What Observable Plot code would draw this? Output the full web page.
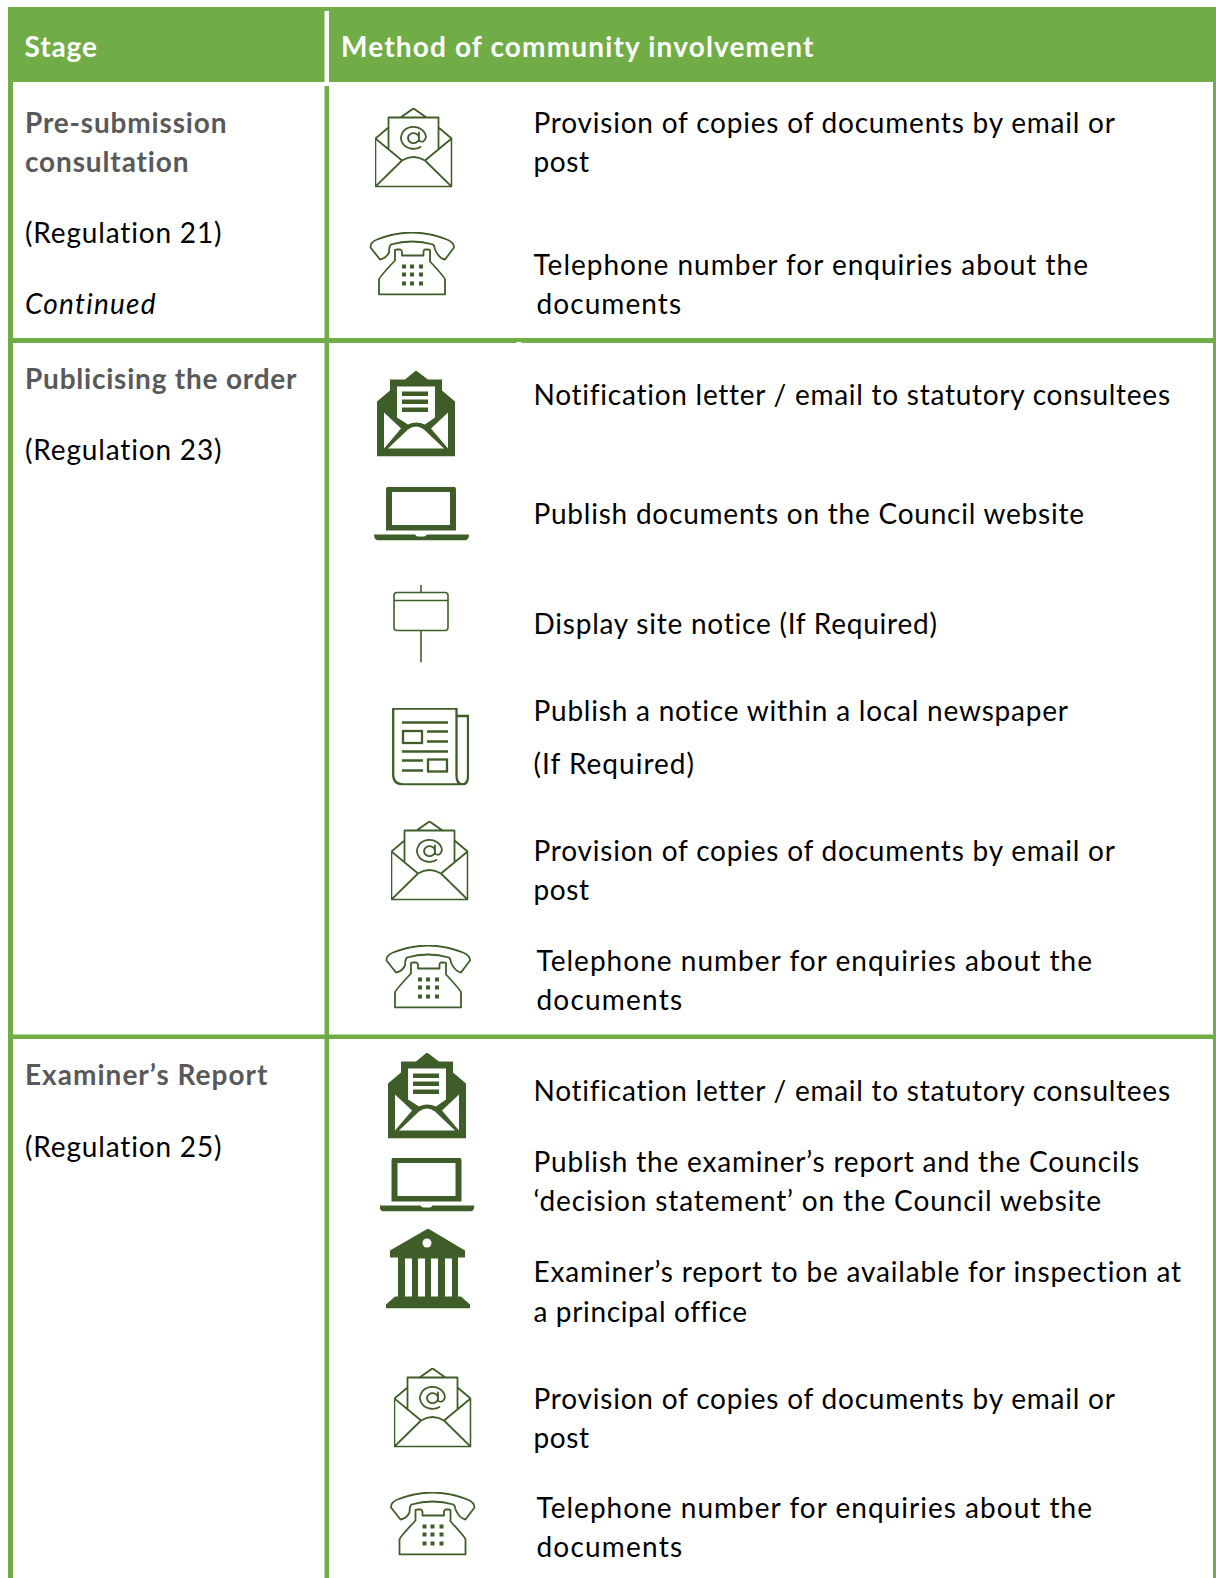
<!DOCTYPE html>
<html><head><meta charset="utf-8">
<style>html,body{margin:0;padding:0;background:#fff}svg{display:block}
svg text{letter-spacing:.5px}</style>
<script src="https://cdn.jsdelivr.net/npm/d3@7"></script>
<script src="https://cdn.jsdelivr.net/npm/@observablehq/plot@0.6"></script>
</head><body><script>
// ---- Content ----
const headerLabels = ["Stage", "Method of community involvement"];
const headerX = [24, 340.5];
const headerLen = [73, 473];

const stageLines = ["Pre-submission","consultation","(Regulation 21)","Continued",
  "Publicising the order","(Regulation 23)","Examiner\u2019s Report","(Regulation 25)"];
const stageKinds = ["title","title","ref","note","title","ref","title","ref"];
const stageY = [123.5,162.5,233.5,304.5,379.5,450.5,1075.5,1147.5];
const stageLen = [202,164,197,131,272,197,243,197];

const methodLines = [
 "Provision of copies of documents by email or","post",
 "Telephone number for enquiries about the","documents",
 "Notification letter / email to statutory consultees",
 "Publish documents on the Council website",
 "Display site notice (If Required)",
 "Publish a notice within a local newspaper","(If Required)",
 "Provision of copies of documents by email or","post",
 "Telephone number for enquiries about the","documents",
 "Notification letter / email to statutory consultees",
 "Publish the examiner\u2019s report and the Councils","\u2018decision statement\u2019 on the Council website",
 "Examiner\u2019s report to be available for inspection at","a principal office",
 "Provision of copies of documents by email or","post",
 "Telephone number for enquiries about the","documents"];
const methodX = [533,533,533,536,533,533,533,533,533,533,533,536,536,533,533,533,533,533,533,533,536,536];
const methodY = [123.5,162.5,265.5,304.5,395.5,514.5,624.5,711.5,764.5,851.5,890.5,961.5,1000.5,1091.5,1162.5,1201.5,1272.5,1312.5,1399.5,1438.5,1509,1548];
const methodLen = [582,56,555,145,637,551,404,535,161,582,56,556,146,637,606,568,648,214,582,56,556,146];

// ---- Icons ----
const ink = "#3f5d28";
const mailOutline = `<svg xmlns="http://www.w3.org/2000/svg" viewBox="0 0 78 80"><g fill="none" stroke="${ink}" stroke-width="1.8" stroke-linejoin="round" stroke-linecap="round">
<path d="M.9 31V79.1H77.1V31L64 20M.9 31L14 20M26 10L39 .9L52 10M14 42V10H64V42M.9 31L27.5 53Q39 46 50.5 53L77.1 31M.9 79.1L27.5 53M77.1 79.1L50.5 53"/>
<path d="M44.5 25V33.5Q50 36 51.5 29.5A12.5 11 0 1 0 46 39.5M44.5 30A5.5 5 0 1 1 44.4 29.5"/></g></svg>`;
const phone = `<svg xmlns="http://www.w3.org/2000/svg" viewBox="0 0 86 64"><g fill="none" stroke="${ink}" stroke-width="1.8" stroke-linejoin="round">
<path d="M11 28L1.5 16Q1 11 8 8Q43-6 78 8Q85 11 85 16L76 28Q70 27 66 18Q66 15 64 13Q43 7 22 13Q20 15 20 21Q17 27 11 28Z"/>
<path d="M10 63H76V48Q76 46 61 30V19Q61 18 59 18H56Q55 18 54.5 20V24H33V20Q32.5 18 31 18H28Q26 18 26 19V29Q10 46 10 48Z"/></g>
<g fill="${ink}"><rect x="33" y="33" width="4" height="4"/><rect x="41" y="33" width="4" height="4"/><rect x="50" y="33" width="4" height="4"/><rect x="33" y="41" width="4" height="4"/><rect x="41" y="41" width="4" height="4"/><rect x="50" y="41" width="4" height="4"/><rect x="33" y="50" width="4" height="4"/><rect x="41" y="50" width="4" height="4"/><rect x="50" y="50" width="4" height="4"/></g></svg>`;
const mailSolid = `<svg xmlns="http://www.w3.org/2000/svg" viewBox="0 0 78 86"><path fill="${ink}" d="M39 0L28 9H13V20L0 31V86H78V31L65 20V9H51Z"/>
<g fill="#fff"><path d="M20 16H58V47L48 54Q39 50 31 54L20 47Z"/><path d="M7 42L24 58L7 78Z"/><path d="M71 42L54 58L71 78Z"/><path d="M11 78L31 59Q39 53 47 59L67 78Z"/></g>
<g fill="${ink}"><rect x="25" y="21" width="26" height="4.5"/><rect x="25" y="29" width="26" height="4.5"/><rect x="25" y="37" width="26" height="4.5"/></g></svg>`;
const laptop = `<svg xmlns="http://www.w3.org/2000/svg" viewBox="0 0 95 54"><path fill="${ink}" d="M15 0H79Q82 0 82 3V44H12V3Q12 0 15 0ZM0 48H41Q42 50 44 50H50Q52 50 53 48H95Q95 54 90 54H5Q0 54 0 48Z"/><rect fill="#fff" x="18" y="5.5" width="58" height="33"/></svg>`;
const sign = `<svg xmlns="http://www.w3.org/2000/svg" viewBox="0 0 56 78"><g fill="none" stroke="${ink}" stroke-width="1.6"><rect x="1" y="8" width="54" height="38" rx="3"/><path d="M1 16H55M28 0V8M28 46V78"/></g></svg>`;
const news = `<svg xmlns="http://www.w3.org/2000/svg" viewBox="0 0 77 78"><g fill="none" stroke="${ink}" stroke-width="2.3"><path d="M1.2 1.2H64.5V68Q64.5 76.8 71 76.8H11Q1.2 76.8 1.2 67ZM64.5 8.5H76V69Q76 76.8 70 76.8"/>
<path d="M10 15H56M35 24H56M35 34H56M10 44H56M10 53H31M10 63H31"/><rect x="11" y="23.5" width="19" height="12"/><rect x="36" y="52" width="19" height="12"/></g></svg>`;
const bank = `<svg xmlns="http://www.w3.org/2000/svg" viewBox="0 0 84 80"><path fill="${ink}" d="M42 0L79 22V29H72V68H75L84 76V80H0V76L9 68H12V29H4V22ZM19 30V68H26V30ZM32 30V68H39V30ZM45 30V68H52V30ZM59 30V68H66V30Z" fill-rule="evenodd"/><circle cx="41" cy="14.5" r="4.5" fill="#fff"/></svg>`;
const uri = s => "data:image/svg+xml," + encodeURIComponent(s);
const iconShapes = {mailOutline, phone, mailSolid, laptop, sign, news, bank};

const iconNames = ["mailOutline","phone","mailSolid","laptop","sign","news","mailOutline","phone","mailSolid","laptop","bank","mailOutline","phone"];
const iconX = [413,411.5,415.5,421,420.5,430,429,427.5,426.5,426.5,427.5,432,432];
const iconY = [147,263,413,513,623,746,860,976,1095,1184,1268,1407,1523];
const iconW = [78,86,78,95,56,77,78,86,78,95,84,78,86];
const iconH = [80,64,86,54,78,78,80,64,86,54,80,80,64];

// ---- Table rules ----
const green = "#70ad47";
const W = 1216, H = 1578;
const bands = [
 {x1:8,x2:1216,y1:7,y2:82},        // header
 {x1:324.5,x2:329,y1:11,y2:82,w:1},  // header divider
 {x1:8,x2:13,y1:82,y2:1578},       // left rule
 {x1:324.5,x2:329,y1:86,y2:1578},    // middle rule
 {x1:1213,x2:1216,y1:82,y2:1578},  // right rule
 {x1:8,x2:1216,y1:338,y2:343},     // row rule
 {x1:8,x2:1216,y1:1034.5,y2:1039},    // row rule
 {x1:516.5,x2:521.5,y1:342,y2:343,w:1}  // small gap in the rule
];

const stageRows = stageLines.map((text,i)=>({text,kind:stageKinds[i],y:stageY[i],len:stageLen[i]}));
const methodRows = methodLines.map((text,i)=>({text,x:methodX[i],y:methodY[i],len:methodLen[i]}));
const iconRows = iconNames.map((n,i)=>({src:uri(iconShapes[n]),x:iconX[i],y:iconY[i],w:iconW[i],h:iconH[i]}));
const face = "Lato", size = 28;

// Text mark whose lines are fitted to the measured width of each line.
const fitted = (rows, options) => Plot.text(rows, {
  text:"text", textAnchor:"start", fontSize:size, fontFamily:face, ...options,
  render(index, scales, values, dims, context, next) {
    const g = next(index, scales, values, dims, context);
    g.querySelectorAll("text").forEach((el, j) => {
      el.setAttribute("textLength", rows[index[j]].len);
      el.setAttribute("lengthAdjust", "spacing");
    });
    return g;
  }
});
const stageText = (kind, extra) => fitted(stageRows.filter(d=>d.kind===kind), {x:()=>24.5, y:"y", ...extra});
const headerRows = headerLabels.map((text,i)=>({text,x:headerX[i],len:headerLen[i]}));

const chart = Plot.plot({
  width:W,height:H,margin:0,
  x:{domain:[0,W],range:[0,W],axis:null},
  y:{domain:[0,H],range:[0,H],axis:null},
  style:{background:"#fff",fontFamily:face},
  marks:[
    Plot.rect(bands,{x1:"x1",x2:"x2",y1:"y1",y2:"y2",fill:d=>d.w?"#fff":green}),
    fitted(headerRows,{x:"x",y:()=>48,fill:"#fff",fontWeight:"bold"}),
    stageText("title",{fill:"#595959",fontWeight:"bold"}),
    stageText("ref",{fill:"#000"}),
    stageText("note",{fill:"#000",fontStyle:"italic"}),
    fitted(methodRows,{x:"x",y:"y",fill:"#000"}),
    Plot.image(iconRows,{x:"x",y:"y",width:"w",height:"h",src:"src"})
  ]
});
document.body.append(chart);
</script></body></html>
